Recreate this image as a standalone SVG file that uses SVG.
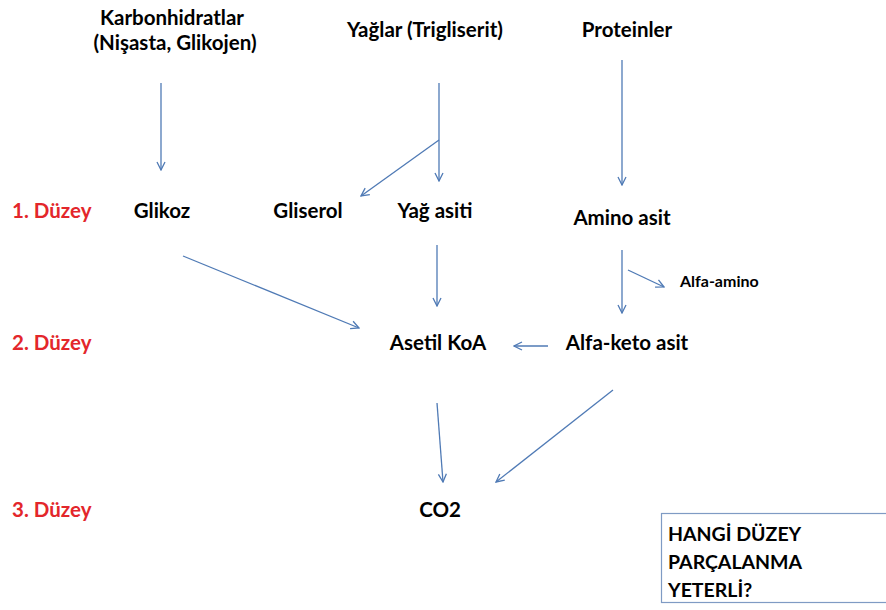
<svg xmlns="http://www.w3.org/2000/svg" width="886" height="610" viewBox="0 0 886 610">
<defs>
<marker id="ah" viewBox="0 0 10 10" refX="9" refY="5" markerWidth="10" markerHeight="10" markerUnits="userSpaceOnUse" orient="auto">
<polyline points="1,1 9,5 1,9" fill="none" stroke="#4f7ab5" stroke-width="1.3"/>
</marker>
<style>
text{font-family:"Lato","Open Sans","Liberation Sans",sans-serif;font-weight:bold;font-size:20.5px;fill:#000}
.lvl{fill:#e3262b}
.small{font-size:16px}
.bx{font-size:19.5px}
.c line{stroke:#4f7ab5;stroke-width:1.3;marker-end:url(#ah)}
</style>
</defs>
<rect width="886" height="610" fill="#fff"/>
<g id="carb"><text x="172" y="25" text-anchor="middle">Karbonhidratlar</text><text x="175" y="50" text-anchor="middle">(Nişasta, Glikojen)</text></g>
<g id="yaglar"><text x="425" y="37" text-anchor="middle">Yağlar (Trigliserit)</text></g>
<g id="proteinler"><text x="627" y="37" text-anchor="middle">Proteinler</text></g>
<g id="d1"><text class="lvl" x="12" y="218">1. Düzey</text></g>
<g id="d2"><text class="lvl" x="12" y="350">2. Düzey</text></g>
<g id="d3"><text class="lvl" x="12" y="517">3. Düzey</text></g>
<g id="glikoz"><text x="162" y="218" text-anchor="middle">Glikoz</text></g>
<g id="gliserol"><text x="308" y="218" text-anchor="middle">Gliserol</text></g>
<g id="yagasiti"><text x="435" y="218" text-anchor="middle">Yağ asiti</text></g>
<g id="aminoasit"><text x="622" y="225" text-anchor="middle">Amino asit</text></g>
<g id="alfaamino"><text class="small" x="680" y="287">Alfa-amino</text></g>
<g id="asetil"><text x="438" y="350" text-anchor="middle">Asetil KoA</text></g>
<g id="alfaketo"><text x="627" y="350" text-anchor="middle">Alfa-keto asit</text></g>
<g id="co2"><text x="440" y="517" text-anchor="middle">CO2</text></g>
<g id="box"><rect x="661.5" y="513.5" width="230" height="89" fill="#fff" stroke="#7f9bc4" stroke-width="1.2"/><text class="bx" x="668" y="541">HANGİ DÜZEY</text><text class="bx" x="668" y="569">PARÇALANMA</text><text class="bx" x="668" y="597">YETERLİ?</text></g>
<g id="connectors" class="c">
<line x1="161" y1="83" x2="161" y2="170"/>
<line x1="439" y1="83" x2="439" y2="181"/>
<path d="M439 140 L361 196" fill="none" stroke="#4f7ab5" stroke-width="1.3" marker-end="url(#ah)"/>
<line x1="622" y1="60" x2="622" y2="185"/>
<line x1="183" y1="256" x2="359" y2="328"/>
<line x1="437" y1="245" x2="437" y2="306"/>
<line x1="622" y1="250" x2="622" y2="313"/>
<line x1="628" y1="270" x2="664" y2="287"/>
<line x1="548" y1="346" x2="514" y2="346"/>
<line x1="437" y1="403" x2="443" y2="482"/>
<line x1="613" y1="390" x2="496" y2="482"/>
</g>
</svg>
